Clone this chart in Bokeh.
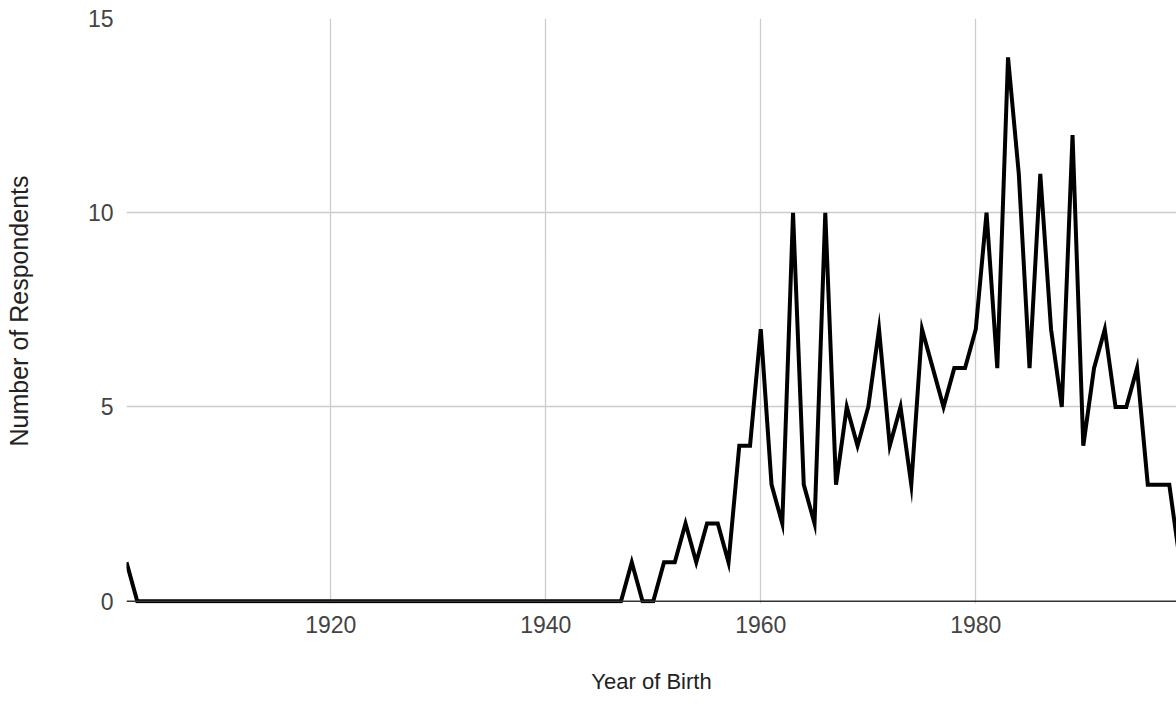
from bokeh.plotting import figure
from bokeh.models import Range1d, FixedTicker, Span
from bokeh.embed import file_html
from bokeh.resources import INLINE

# Year of birth and number of respondents
years = list(range(1901, 2000))
respondents = [
    1,                                                  # 1901
    0, 0, 0, 0, 0, 0, 0, 0, 0,                          # 1902-1910
    0, 0, 0, 0, 0, 0, 0, 0, 0, 0,                       # 1911-1920
    0, 0, 0, 0, 0, 0, 0, 0, 0, 0,                       # 1921-1930
    0, 0, 0, 0, 0, 0, 0, 0, 0, 0,                       # 1931-1940
    0, 0, 0, 0, 0, 0, 0, 1, 0, 0,                       # 1941-1950
    1, 1, 2, 1, 2, 2, 1, 4, 4, 7,                       # 1951-1960
    3, 2, 10, 3, 2, 10, 3, 5, 4, 5,                     # 1961-1970
    7, 4, 5, 3, 7, 6, 5, 6, 6, 7,                       # 1971-1980
    10, 6, 14, 11, 6, 11, 7, 5, 12, 4,                  # 1981-1990
    6, 7, 5, 5, 6, 3, 3, 3, 1,                          # 1991-1999
]
x_ticks = [1920, 1940, 1960, 1980]
y_ticks = [0, 5, 10, 15]

FONT = "Liberation Sans"

p = figure(
    width=1176, height=704,
    x_range=Range1d(1901, 1998.67), y_range=Range1d(-0.06, 15.0),
    output_backend="svg", toolbar_location=None,
    min_border_left=126, min_border_right=0,
    min_border_top=18, min_border_bottom=101,
)
p.outline_line_color = None
p.background_fill_color = "white"
p.border_fill_color = "white"

p.line(years, respondents, line_color="black", line_width=4, line_join="miter")

baseline = Span(location=0, dimension="width", line_color="#333333", line_width=1.5)
p.add_layout(baseline)

p.xaxis.ticker = FixedTicker(ticks=x_ticks)
p.yaxis.ticker = FixedTicker(ticks=y_ticks)
p.xgrid.ticker = FixedTicker(ticks=x_ticks)
p.ygrid.ticker = FixedTicker(ticks=[5, 10, 15])

for g in (p.xgrid, p.ygrid):
    g.grid_line_color = "#cccccc"
    g.grid_line_width = 1.3

for ax in (p.xaxis, p.yaxis):
    ax.axis_line_color = None
    ax.major_tick_line_color = None
    ax.minor_tick_line_color = None
    ax.major_tick_out = 0
    ax.major_tick_in = 0
    ax.minor_tick_out = 0
    ax.major_label_text_font = FONT
    ax.major_label_text_font_size = "23px"
    ax.major_label_text_color = "#444444"
    ax.axis_label_text_font = FONT
    ax.axis_label_text_font_style = "normal"
    ax.axis_label_text_color = "#222222"

p.xaxis.axis_label = "Year of Birth"
p.yaxis.axis_label = "Number of Respondents"
p.xaxis.axis_label_text_font_size = "22px"
p.yaxis.axis_label_text_font_size = "25px"
p.xaxis.major_label_standoff = 12
p.xaxis.axis_label_standoff = 33
p.yaxis.major_label_standoff = 13
p.yaxis.axis_label_standoff = 52

open("out.html", "w").write(file_html(p, INLINE))
